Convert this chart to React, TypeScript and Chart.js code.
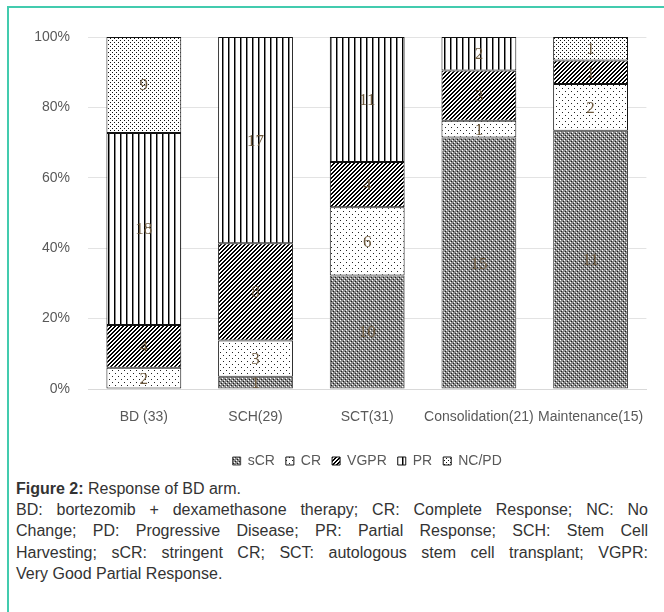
import React, { useEffect, useRef } from "react";
import { Chart, registerables } from "chart.js";

Chart.register(...registerables);

const categories = ["BD (33)", "SCH(29)", "SCT(31)", "Consolidation(21)", "Maintenance(15)"];
const seriesNames = ["sCR", "CR", "VGPR", "PR", "NC/PD"];
const sCR = [0, 1, 10, 15, 11];
const CR = [2, 3, 6, 1, 2];
const VGPR = [4, 8, 4, 3, 1];
const PR = [18, 17, 11, 2, 0];
const NCPD = [9, 0, 0, 0, 1];
const yTicks = [0, 20, 40, 60, 80, 100];

const counts = [sCR, CR, VGPR, PR, NCPD];
const totals = categories.map((_, j) => counts.reduce((s, arr) => s + arr[j], 0));

function makePattern(size: number, bg: string, draw: (x: CanvasRenderingContext2D, s: number) => void) {
  const c = document.createElement("canvas");
  c.width = size;
  c.height = size;
  const x = c.getContext("2d")!;
  x.fillStyle = bg;
  x.fillRect(0, 0, size, size);
  draw(x, size);
  return x.createPattern(c, "repeat") as CanvasPattern;
}

function buildPatterns() {
  const sCRp = makePattern(4, "#8a8a8a", (x) => {
    x.fillStyle = "#ffffff";
    x.fillRect(0, 0, 1, 1);
    x.fillRect(2, 2, 1, 1);
    x.fillStyle = "#1a1a1a";
    x.fillRect(1, 3, 1, 1);
    x.fillRect(3, 1, 1, 1);
  });
  const CRp = makePattern(6, "#ffffff", (x) => {
    x.fillStyle = "#222";
    x.fillRect(1, 1, 1, 1);
    x.fillRect(4, 4, 1, 1);
  });
  const VGPRp = makePattern(4, "#ffffff", (x, s) => {
    x.fillStyle = "#000";
    for (let i = 0; i < s; i++)
      for (let k = 0; k < s; k++) {
        const m = (i + k) % 4;
        if (m === 0 || m === 1) x.fillRect(i, k, 1, 1);
      }
  });
  const PRp = makePattern(6, "#ffffff", (x, s) => {
    x.fillStyle = "#000";
    x.fillRect(0, 0, 1, s);
    x.fillStyle = "#888";
    x.fillRect(1, 0, 1, s);
  });
  const NCp = makePattern(4, "#ffffff", (x) => {
    x.fillStyle = "#111";
    x.fillRect(0, 0, 1, 1);
    x.fillRect(2, 2, 1, 1);
  });
  return [sCRp, CRp, VGPRp, PRp, NCp];
}

const segmentLabels = {
  id: "segmentLabels",
  afterDatasetsDraw(chart: any) {
    const ctx = chart.ctx;
    ctx.save();
    ctx.font = '17px "Liberation Serif", "DejaVu Serif", serif';
    ctx.fillStyle = "#6e5a3e";
    ctx.textAlign = "center";
    ctx.textBaseline = "middle";
    chart.data.datasets.forEach((ds: any, i: number) => {
      const meta = chart.getDatasetMeta(i);
      meta.data.forEach((bar: any, j: number) => {
        const v = counts[i][j];
        if (!v) return;
        const p = bar.getProps(["x", "y", "base"], true);
        ctx.fillText(String(v), p.x, (p.y + p.base) / 2 + 1);
      });
    });
    ctx.restore();
  },
};

const captionLines = [
  "BD: bortezomib + dexamethasone therapy; CR: Complete Response; NC: No",
  "Change; PD: Progressive Disease; PR: Partial Response; SCH: Stem Cell",
  "Harvesting; sCR: stringent CR; SCT: autologous stem cell transplant; VGPR:",
];

export default function App() {
  const ref = useRef<HTMLCanvasElement>(null);

  useEffect(() => {
    document.body.style.margin = "0";
    const canvas = ref.current!;
    const patterns = buildPatterns();
    const borders = ["#444444", "#111111", "#111111", "#111111", "#111111"];
    const chart = new Chart(canvas, {
      type: "bar",
      data: {
        labels: categories,
        datasets: seriesNames.map((name, i) => ({
          label: name,
          data: counts[i].map((v, j) => (v ? (v / totals[j]) * 100 : null)),
          backgroundColor: patterns[i],
          borderColor: borders[i],
          borderWidth: 1,
          borderSkipped: false,
          categoryPercentage: 1,
          barPercentage: 0.67,
        })),
      },
      options: {
        animation: false,
        responsive: false,
        devicePixelRatio: 1,
        layout: { padding: { left: 0, right: 9, top: 37, bottom: 0 } },
        scales: {
          x: {
            stacked: true,
            grid: { display: false, drawTicks: false },
            border: { display: true, color: "#d9d9d9" },
            ticks: {
              color: "#595959",
              font: { family: '"Liberation Sans", Arial, sans-serif', size: 14 },
              padding: 20,
              maxRotation: 0,
              autoSkip: false,
            },
            afterFit: (s: any) => {
              s.height = 54;
            },
          },
          y: {
            stacked: true,
            min: 0,
            max: 100,
            afterBuildTicks: (s: any) => {
              s.ticks = yTicks.map((v) => ({ value: v }));
            },
            grid: { color: "#e3e3e3", drawTicks: false },
            border: { display: false },
            ticks: {
              color: "#595959",
              font: { family: '"Liberation Sans", Arial, sans-serif', size: 14 },
              padding: 18,
              callback: (v: any) => v + "%",
            },
            afterFit: (s: any) => {
              s.width = 88;
            },
          },
        },
        plugins: {
          legend: {
            position: "bottom",
            fullSize: false,
            labels: {
              boxWidth: 8,
              boxHeight: 8,
              padding: 11,
              color: "#595959",
              font: { family: '"Liberation Sans", Arial, sans-serif', size: 14 },
            },
          },
          tooltip: { enabled: false },
        },
      },
      plugins: [segmentLabels],
    } as any);
    return () => chart.destroy();
  }, []);

  const captionFont = '"Liberation Sans", Arial, sans-serif';
  return (
    <div style={{ position: "relative", width: 664, height: 612, overflow: "hidden", background: "#fff" }}>
      <div
        style={{
          position: "absolute",
          left: 7,
          top: 6,
          width: 720,
          height: 720,
          borderLeft: "2px solid #43cbae",
          borderTop: "2px solid #43cbae",
          boxSizing: "border-box",
        }}
      />
      <canvas ref={ref} width={664} height={478} style={{ position: "absolute", left: 0, top: 0 }} />
      <div
        style={{
          position: "absolute",
          left: 16,
          top: 477.5,
          width: 632,
          fontFamily: captionFont,
          fontSize: 16,
          lineHeight: "21.4px",
          color: "#333333",
        }}
      >
        <div style={{ whiteSpace: "nowrap" }}>
          <b>Figure 2:</b> Response of BD arm.
        </div>
        {captionLines.map((t, i) => (
          <div key={i} style={{ whiteSpace: "nowrap", textAlign: "justify", textAlignLast: "justify" as any }}>
            {t}
          </div>
        ))}
        <div style={{ whiteSpace: "nowrap" }}>Very Good Partial Response.</div>
      </div>
    </div>
  );
}
